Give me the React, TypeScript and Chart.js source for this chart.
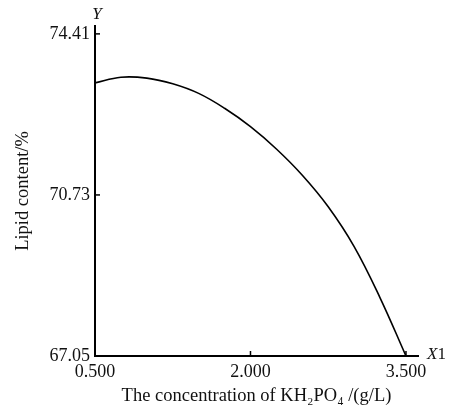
import React, { useEffect, useRef } from "react";
import { Chart, registerables } from "chart.js";

Chart.register(...registerables);

const xValues = [0.5, 0.75, 1.0, 1.25, 1.5, 1.75, 2.0, 2.25, 2.5, 2.75, 3.0, 3.25, 3.5];
const lipidValues = [73.29, 73.42, 73.40, 73.27, 73.05, 72.71, 72.29, 71.78, 71.18, 70.46, 69.55, 68.38, 67.05];
const xTicks = [0.5, 2.0, 3.5];
const xTickLabels = ["0.500", "2.000", "3.500"];
const yTicks = [67.05, 70.73, 74.41];
const yTickLabels = ["67.05", "70.73", "74.41"];
const xTitle = "The concentration of KH\u2082PO\u2084 /(g/L)";
const yTitle = "Lipid content/%";
const FONT = "'Liberation Serif', 'Times New Roman', serif";

const extrasPlugin = {
  id: "extras",
  afterDraw(chart: any) {
    const ctx = chart.ctx;
    const xs = chart.scales.x;
    const ys = chart.scales.y;
    ctx.save();
    ctx.strokeStyle = "#000";
    ctx.lineWidth = 1.5;
    // inward ticks
    yTicks.forEach((v) => {
      const py = ys.getPixelForValue(v);
      ctx.beginPath();
      ctx.moveTo(xs.left, py);
      ctx.lineTo(xs.left + 5, py);
      ctx.stroke();
    });
    xTicks.forEach((v) => {
      const px = xs.getPixelForValue(v);
      ctx.beginPath();
      ctx.moveTo(px, ys.bottom);
      ctx.lineTo(px, ys.bottom - 5);
      ctx.stroke();
    });
    // axis letters
    ctx.fillStyle = "#111";
    ctx.textBaseline = "middle";
    ctx.textAlign = "center";
    ctx.font = `italic 17px ${FONT}`;
    ctx.fillText("Y", xs.left + 2, ys.top - 11);
    ctx.textAlign = "left";
    const ax = xs.right + 9;
    const ay = ys.bottom - 1;
    ctx.fillText("X", ax, ay);
    const w = ctx.measureText("X").width;
    ctx.font = `17px ${FONT}`;
    ctx.fillText("1", ax + w, ay);
    ctx.restore();
  },
};

export default function App() {
  const ref = useRef<HTMLCanvasElement | null>(null);
  useEffect(() => {
    if (!ref.current) return;
    const chart = new Chart(ref.current, {
      type: "line",
      data: {
        datasets: [
          {
            data: xValues.map((x, i) => ({ x, y: lipidValues[i] })),
            borderColor: "#000",
            borderWidth: 1.6,
            pointRadius: 0,
            fill: false,
            tension: 0.4,
          },
        ],
      },
      options: {
        animation: false,
        responsive: false,
        maintainAspectRatio: false,
        layout: { padding: { top: 26, right: 34, left: 0, bottom: 0 } },
        plugins: { legend: { display: false }, tooltip: { enabled: false } },
        scales: {
          x: {
            type: "linear",
            min: 0.5,
            max: 3.616,
            afterBuildTicks: (s: any) => {
              s.ticks = xTicks.map((v) => ({ value: v }));
            },
            afterFit: (s: any) => {
              s.height = 51;
            },
            grid: { display: false, drawTicks: false },
            border: { display: true, color: "#000", width: 2 },
            ticks: {
              color: "#111",
              font: { family: FONT, size: 18 },
              padding: 5,
              maxRotation: 0,
              autoSkip: false,
              callback: (_v: any, i: number) => xTickLabels[i],
            },
            title: {
              display: true,
              text: xTitle,
              color: "#111",
              font: { family: FONT, size: 18.5 },
              padding: { top: 4, bottom: 0 },
            },
          },
          y: {
            type: "linear",
            min: 67.05,
            max: 74.59,
            afterBuildTicks: (s: any) => {
              s.ticks = yTicks.map((v) => ({ value: v }));
            },
            afterFit: (s: any) => {
              s.width = 95;
            },
            grid: { display: false, drawTicks: false },
            border: { display: true, color: "#000", width: 2 },
            ticks: {
              color: "#111",
              font: { family: FONT, size: 18 },
              padding: 5,
              autoSkip: false,
              callback: (_v: any, i: number) => yTickLabels[i],
            },
            title: {
              display: true,
              text: yTitle,
              color: "#111",
              font: { family: FONT, size: 18.5 },
              padding: { top: 12, bottom: 0 },
            },
          },
        },
      },
      plugins: [extrasPlugin],
    } as any);
    return () => chart.destroy();
  }, []);
  return (
    <div style={{ position: "fixed", left: 0, top: 0, width: 452, height: 407, background: "#fff" }}>
      <canvas ref={ref} width={452} height={407} style={{ width: 452, height: 407 }} />
    </div>
  );
}
